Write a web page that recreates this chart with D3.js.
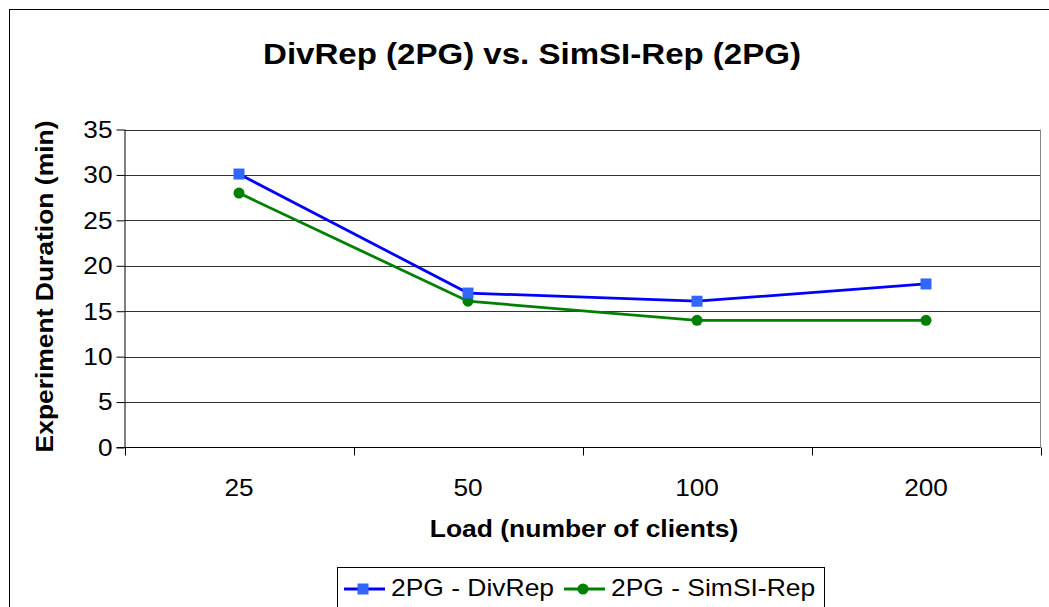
<!DOCTYPE html>
<html>
<head>
<meta charset="utf-8">
<script src="https://cdn.jsdelivr.net/npm/d3@7"></script>
<style>
  html, body { margin: 0; padding: 0; background: #fff; }
  svg { display: block; font-family: "Liberation Sans", Arial, sans-serif; }
</style>
</head>
<body>
<svg id="chart" width="1049" height="607"></svg>
<script>
// Load levels (number of clients) and experiment durations in minutes
const categories = ["25", "50", "100", "200"];
const divRep = [30.1, 17.0, 16.1, 18.0];
const simSIRep = [28.0, 16.1, 14.0, 14.0];
const yTicks = [0, 5, 10, 15, 20, 25, 30, 35];

const seriesList = [
  { name: "2PG - DivRep", values: divRep, line: "#0000ff", marker: "#3366ff", shape: "square" },
  { name: "2PG - SimSI-Rep", values: simSIRep, line: "#008000", marker: "#008000", shape: "circle" }
];

const svg = d3.select("#chart");
const W = 1049, H = 607;
const plot = { left: 124.5, right: 1040.5, top: 129.5, bottom: 447.5 };
const SX = 1.14; // the chart's typeface is set slightly wide

// Places a horizontally widened text label at (x, y)
function label(parent, x, y, str, opts = {}) {
  const t = parent.append("text")
    .attr("transform", `translate(${x},${y})${opts.rotate ? " rotate(" + opts.rotate + ")" : ""} scale(${opts.sx || SX},1)`)
    .attr("text-anchor", opts.anchor || "start")
    .attr("font-size", opts.size || 23)
    .attr("fill", "#000")
    .text(str);
  if (opts.bold) t.attr("font-weight", "bold");
  if (opts.dy) t.attr("dy", opts.dy);
  return t;
}

// Outer chart frame
svg.append("rect")
  .attr("x", 9.5).attr("y", 9.5)
  .attr("width", W + 20).attr("height", H + 20)
  .attr("fill", "#fff").attr("stroke", "#000").attr("stroke-width", 1);

const x = d3.scaleBand().domain(categories).range([plot.left, plot.right]);
const y = d3.scaleLinear().domain([0, 35]).range([plot.bottom, plot.top]);

// Horizontal gridlines
svg.append("g").selectAll("line").data(yTicks.filter(d => d > 0)).join("line")
  .attr("x1", plot.left).attr("x2", plot.right)
  .attr("y1", d => Math.round(y(d)) + 0.5).attr("y2", d => Math.round(y(d)) + 0.5)
  .attr("stroke", "#333").attr("stroke-width", 1);

// Right edge of plot area
svg.append("line")
  .attr("x1", plot.right).attr("x2", plot.right)
  .attr("y1", plot.top).attr("y2", plot.bottom)
  .attr("stroke", "#888").attr("stroke-width", 1);

// Y axis: line and ticks from d3.axisLeft, labels drawn widened
const yAxis = d3.axisLeft(y).tickValues(yTicks).tickSize(8).tickFormat("");
const gy = svg.append("g").attr("transform", `translate(${plot.left},0)`).call(yAxis);
gy.selectAll("line, path").attr("stroke", "#000");
gy.select(".domain").attr("d", `M0.5,${plot.top}V${plot.bottom}`);
yTicks.forEach(t => label(svg, plot.left - 12, y(t), String(t), { anchor: "end", dy: "0.36em" }));

// X axis: ticks sit on category boundaries
const gx = svg.append("g").attr("transform", `translate(0,${plot.bottom})`);
gx.append("line").attr("x1", plot.left - 8).attr("x2", plot.right)
  .attr("y1", 0).attr("y2", 0).attr("stroke", "#000");
const boundaries = categories.map(c => x(c)).concat([x(categories[categories.length - 1]) + x.bandwidth()]);
gx.selectAll("line.tick").data(boundaries).join("line").attr("class", "tick")
  .attr("x1", d => Math.round(d) + 0.5).attr("x2", d => Math.round(d) + 0.5)
  .attr("y1", 0).attr("y2", 8).attr("stroke", "#000");
categories.forEach(c => label(gx, x(c) + x.bandwidth() / 2, 48, c, { anchor: "middle" }));

// Title and axis titles
label(svg, 532, 64, "DivRep (2PG) vs. SimSI-Rep (2PG)", { anchor: "middle", size: 29, bold: true });
label(svg, 584, 537, "Load (number of clients)", { anchor: "middle", bold: true, sx: 1.15 });
label(svg, 53, (plot.top + plot.bottom) / 2 - 2, "Experiment Duration (min)",
  { anchor: "middle", bold: true, rotate: -90, sx: 1.15 });

// Series lines and markers
const line = d3.line().x((d, i) => x(categories[i]) + x.bandwidth() / 2).y(d => y(d));
function drawMarker(g, s, cx, cy) {
  if (s.shape === "square") {
    g.append("rect").attr("x", cx - 5.5).attr("y", cy - 5.5).attr("width", 11).attr("height", 11)
      .attr("fill", s.marker);
  } else {
    g.append("circle").attr("cx", cx).attr("cy", cy).attr("r", 5.5).attr("fill", s.marker);
  }
}
seriesList.slice().reverse().forEach(s => {
  const g = svg.append("g");
  g.append("path").datum(s.values).attr("d", line)
    .attr("fill", "none").attr("stroke", s.line).attr("stroke-width", 2.8);
  s.values.forEach((v, i) => drawMarker(g, s, x(categories[i]) + x.bandwidth() / 2, y(v)));
});

// Legend
const lg = svg.append("g");
lg.append("rect").attr("x", 337.5).attr("y", 567.5).attr("width", 487).attr("height", 60)
  .attr("fill", "#fff").attr("stroke", "#000");
const legendX = [344, 564];
seriesList.forEach((s, i) => {
  const lx = legendX[i], ly = 589;
  lg.append("line").attr("x1", lx).attr("x2", lx + 41).attr("y1", ly).attr("y2", ly)
    .attr("stroke", s.line).attr("stroke-width", 2.8);
  drawMarker(lg, s, lx + 19, ly);
  label(lg, lx + 47, 596, s.name, { sx: 1.15 });
});
</script>
</body>
</html>
